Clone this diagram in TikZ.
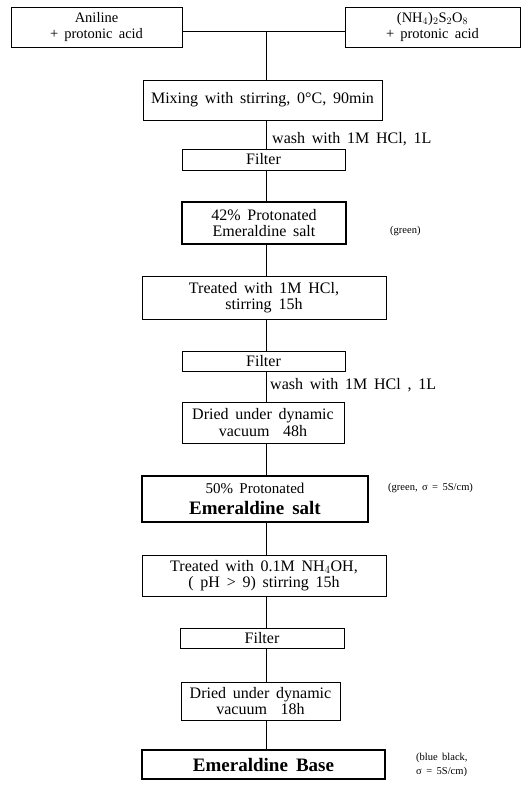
\documentclass[tikz,border=0pt]{standalone}
\usepackage{fontspec}
\setmainfont[WordSpace=1.7]{Liberation Serif}
\begin{document}
\begin{tikzpicture}[x=1pt,y=-1pt,
  box/.style={draw, line width=0.9pt, align=center, inner sep=0pt,
    font=\fontsize{16}{16.5}\selectfont},
  thickbox/.style={box, line width=2pt},
  topbox/.style={box, font=\fontsize{14.5}{16.5}\selectfont},
  wire/.style={line width=1pt},
  note/.style={font=\fontsize{16}{17}\selectfont, anchor=west, inner sep=0pt},
  small/.style={font=\fontsize{10.5}{14}\selectfont, anchor=west, inner sep=0pt, align=left}]
\useasboundingbox (0,0) rectangle (521,785);
\fill[white] (0,0) rectangle (521,785);
\coordinate (sp) at (266,0);
\coordinate (j) at (266,31);

\node[topbox, minimum width=171pt, minimum height=40pt] (a1) at (96.5,27) {Aniline\\{}+ protonic acid};
\node[topbox, minimum width=175pt, minimum height=40pt] (a2) at (432.5,27) {(NH$_4$)$_2$S$_2$O$_8$\\{}+ protonic acid};
\node[box, minimum width=239pt, minimum height=40pt] (mix) at (262.5,100) {Mixing with stirring, 0°C, 90min};
\node[box, minimum width=163pt, minimum height=21pt] (f1) at (263.5,159.5) {Filter};
\node[note] (w1) at (272,139) {wash with 1M HCl, 1L};
\node[thickbox, minimum width=164pt, minimum height=42pt] (p42) at (264,223) {42\% Protonated\\Emeraldine salt};
\node[small] (g1) at (390,231) {(green)};
\node[box, minimum width=244pt, minimum height=43pt] (t1) at (264,297.5) {Treated with 1M HCl,\\stirring 15h};
\node[box, minimum width=163pt, minimum height=20pt] (f2) at (263.5,361) {Filter};
\node[note] (w2) at (270,385) {wash with 1M HCl , 1L};
\node[box, minimum width=162pt, minimum height=41pt] (d1) at (263,422.5) {Dried under dynamic\\vacuum\ \ 48h};
\node[thickbox, minimum width=226pt, minimum height=46pt] (p50) at (255,499) {\fontsize{15}{15}\selectfont 50\% Protonated\\[4pt]{\fontsize{19}{19}\selectfont\bfseries Emeraldine salt}};
\node[small] (g2) at (388,488) {(green, σ = 5S/cm)};
\node[box, minimum width=244pt, minimum height=41pt] (t2) at (264,575.5) {Treated with 0.1M NH$_4$OH,\\( pH > 9) stirring 15h};
\node[box, minimum width=164pt, minimum height=20pt] (f3) at (262,638) {Filter};
\node[box, minimum width=159pt, minimum height=38pt] (d2) at (260.5,701) {Dried under dynamic\\vacuum\ \ 18h};
\node[thickbox, minimum width=243pt, minimum height=29pt] (base) at (263.5,764.5) {\fontsize{19}{20}\selectfont\bfseries Emeraldine Base};
\node[small] (g3) at (416,765) {(blue black,\\σ = 5S/cm)};

\draw[wire] (a1.east |- j) -- (a2.west |- j);
\draw[wire] (j) -- (mix.north -| sp);
\draw[wire] (mix.south -| sp) -- (f1.north -| sp);
\draw[wire] (f1.south -| sp) -- (p42.north -| sp);
\draw[wire] (p42.south -| sp) -- (t1.north -| sp);
\draw[wire] (t1.south -| sp) -- (f2.north -| sp);
\draw[wire] (f2.south -| sp) -- (d1.north -| sp);
\draw[wire] (d1.south -| sp) -- (p50.north -| sp);
\draw[wire] (p50.south -| sp) -- (t2.north -| sp);
\draw[wire] (t2.south -| sp) -- (f3.north -| sp);
\draw[wire] (f3.south -| sp) -- (d2.north -| sp);
\draw[wire] (d2.south -| sp) -- (base.north -| sp);
\end{tikzpicture}
\end{document}
